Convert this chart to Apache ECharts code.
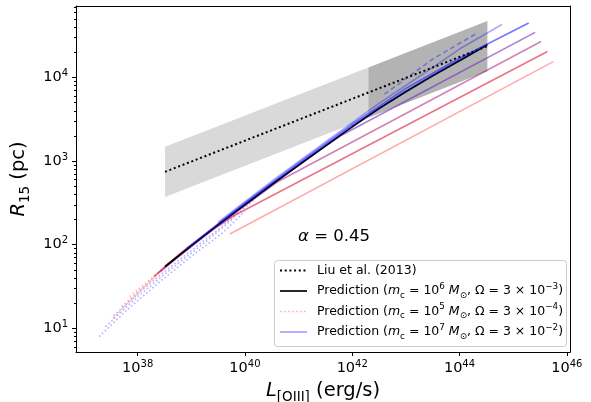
<!DOCTYPE html>
<html lang="en">
<head>
<meta charset="UTF-8">
<title>R15 - L[OIII]</title>
<script src="https://cdn.jsdelivr.net/npm/echarts@6/dist/echarts.min.js"></script>
<style>
  html, body { margin: 0; padding: 0; background: #fff; }
  #chart { width: 591px; height: 402px; }
</style>
</head>
<body>
<div id="chart"></div>
<script>
// every value is log10: x = log L[OIII] (erg/s), y = log R15 (pc)
var xTicks = [38, 40, 42, 44, 46];
var yTicks = [1, 2, 3, 4];

// Liu et al. (2013) relation and its scatter band
var liuX = [38.51, 44.52];
var liuY = [2.872, 4.375];
var bandX = [38.51, 42.30, 44.52];
var bandLow = [2.572, 3.520, 4.075];
var bandHigh = [3.172, 4.120, 4.675];

// model curves
var blackX = [38.51, 39.0, 39.5, 40.0, 40.5, 41.0, 41.5, 42.0, 42.5, 43.0, 43.5, 44.0, 44.52];
var blackY = [1.74, 1.99, 2.24, 2.48, 2.72, 2.95, 3.18, 3.41, 3.63, 3.83, 4.02, 4.20, 4.39];
var navyX = [39.5, 40.5, 41.0, 42.0, 43.0, 44.0, 44.52];
var navyY = [2.25, 2.73, 2.96, 3.42, 3.84, 4.21, 4.40];

var redFX = [39.72, 45.75];
var redFY = [2.128, 4.19];
var redEX = [38.3, 38.8, 39.3, 39.8, 45.64];
var redEY = [1.62, 1.90, 2.14, 2.35, 4.31];
var midDX = [38.4, 39.0, 39.5, 40.0, 40.6, 45.52];
var midDY = [1.67, 1.98, 2.23, 2.47, 2.75, 4.43];
var midCX = [38.5, 39.5, 40.5, 41.2, 41.8, 45.41];
var midCY = [1.73, 2.23, 2.71, 3.05, 3.31, 4.54];
var blueBX = [38.9, 40.0, 41.0, 42.0, 43.0, 44.0, 45.29];
var blueBY = [1.95, 2.50, 2.98, 3.44, 3.87, 4.23, 4.652];
var blueAX = [39.5, 40.5, 41.5, 42.5, 43.5, 44.0, 44.79];
var blueAY = [2.27, 2.76, 3.23, 3.69, 4.12, 4.34, 4.633];
var blueDashX = [42.6, 43.5, 44.3];
var blueDashY = [3.80, 4.22, 4.52];

// dotted tails at low luminosity
var pinkDot1X = [37.54, 38.0, 38.5, 39.0];
var pinkDot1Y = [1.12, 1.42, 1.72, 1.98];
var pinkDot2X = [37.7, 38.2, 38.7, 39.2];
var pinkDot2Y = [1.26, 1.55, 1.83, 2.08];
var pinkDot3X = [37.85, 38.3, 38.8, 39.4];
var pinkDot3Y = [1.38, 1.62, 1.89, 2.18];
var blueDot1X = [37.28, 37.8, 38.4, 39.0, 39.6, 40.0];
var blueDot1Y = [0.90, 1.22, 1.55, 1.86, 2.15, 2.40];
var blueDot2X = [37.4, 38.0, 38.6, 39.2, 39.8];
var blueDot2Y = [1.02, 1.38, 1.70, 2.00, 2.32];
var blueDot3X = [37.55, 38.1, 38.7, 39.4, 40.2];
var blueDot3Y = [1.15, 1.47, 1.78, 2.13, 2.55];

var FONT = 'DejaVu Sans';

function pairs(xs, ys) {
  return xs.map(function (x, i) { return [x, ys[i]]; });
}

function curve(name, xs, ys, color, width, type, z) {
  return {
    name: name,
    type: 'line',
    data: pairs(xs, ys),
    showSymbol: false,
    symbol: 'none',
    silent: true,
    z: z || 2,
    lineStyle: { color: color, width: width, type: type || 'solid', cap: 'butt' }
  };
}

// y minor ticks (2..9 per decade)
var yMin = 0.717, yMax = 4.855;
var yMinor = [];
for (var k = 0; k < 5; k++) {
  for (var m = 2; m < 10; m++) {
    var v = k + Math.log10(m);
    if (v > yMin && v < yMax) yMinor.push(v);
  }
}

var bandData = [];
for (var i = 0; i < bandX.length - 1; i++) {
  bandData.push([bandX[i], bandX[i + 1], bandLow[i], bandHigh[i], bandLow[i + 1], bandHigh[i + 1]]);
}
var bandColors = ['#d9d9d9', '#b3b3b3'];

var supRich = {
  b: { fontFamily: FONT, fontSize: 14.5, color: '#000', lineHeight: 18 },
  s: { fontFamily: FONT, fontSize: 10, color: '#000', verticalAlign: 'top', lineHeight: 18 }
};

var titleRich = {
  i: { fontFamily: FONT, fontStyle: 'italic', fontSize: 19.5, color: '#000', lineHeight: 26 },
  sub: { fontFamily: FONT, fontSize: 13.5, color: '#000', verticalAlign: 'bottom', lineHeight: 26 },
  r: { fontFamily: FONT, fontSize: 19.5, color: '#000', lineHeight: 26 }
};

var chart = echarts.init(document.getElementById('chart'));

var option = {
  animation: false,
  backgroundColor: '#fff',
  grid: { left: 76, right: 21, top: 6, bottom: 50, containLabel: false, outerBoundsMode: 'none' },
  xAxis: [{
    type: 'value',
    min: 36.85,
    max: 46.06,
    name: '{i|L}{sub|[OIII]}{r| (erg/s)}',
    nameLocation: 'middle',
    nameGap: 26,
    nameTextStyle: { rich: titleRich },
    axisLine: { onZero: false, lineStyle: { color: '#000', width: 1 } },
    axisTick: { customValues: xTicks, length: 4, lineStyle: { color: '#000' } },
    axisLabel: {
      customValues: xTicks,
      margin: 7,
      formatter: function (v) { return '{b|10}{s|' + v + '}'; },
      rich: supRich
    },
    splitLine: { show: false }
  }, {
    type: 'value',
    position: 'top',
    min: 36.85,
    max: 46.06,
    axisLine: { onZero: false, lineStyle: { color: '#000', width: 1 } },
    axisTick: { show: false },
    axisLabel: { show: false },
    splitLine: { show: false }
  }],
  yAxis: [{
    type: 'value',
    min: yMin,
    max: yMax,
    name: '{i|R}{sub|15}{r| (pc)}',
    nameLocation: 'middle',
    nameGap: 33,
    nameRotate: 90,
    nameTextStyle: { rich: titleRich },
    axisLine: { onZero: false, lineStyle: { color: '#000', width: 1 } },
    axisTick: { customValues: yTicks, length: 4, lineStyle: { color: '#000' } },
    axisLabel: {
      customValues: yTicks,
      margin: 8,
      formatter: function (v) { return '{b|10}{s|' + v + '}'; },
      rich: supRich
    },
    splitLine: { show: false }
  }, {
    type: 'value',
    min: yMin,
    max: yMax,
    position: 'left',
    axisLine: { show: false },
    axisTick: { customValues: yMinor, length: 2, lineStyle: { color: '#000' } },
    axisLabel: { show: false },
    splitLine: { show: false }
  }, {
    type: 'value',
    min: yMin,
    max: yMax,
    position: 'right',
    axisLine: { onZero: false, lineStyle: { color: '#000', width: 1 } },
    axisTick: { show: false },
    axisLabel: { show: false },
    splitLine: { show: false }
  }],
  series: [
    {
      name: 'Liu band',
      type: 'custom',
      silent: true,
      z: 1,
      data: bandData,
      encode: { x: [0, 1], y: [2, 3, 4, 5] },
      renderItem: function (params, api) {
        var x0 = api.value(0), x1 = api.value(1);
        var pts = [
          api.coord([x0, api.value(2)]),
          api.coord([x1, api.value(4)]),
          api.coord([x1, api.value(5)]),
          api.coord([x0, api.value(3)])
        ];
        return { type: 'polygon', shape: { points: pts }, style: { fill: bandColors[params.dataIndex] } };
      }
    },
    curve('pink dotted 1', pinkDot1X, pinkDot1Y, 'rgba(255,0,0,0.3)', 1.6, [1.6, 2.4]),
    curve('pink dotted 2', pinkDot2X, pinkDot2Y, 'rgba(255,0,0,0.3)', 1.6, [1.6, 2.4]),
    curve('pink dotted 3', pinkDot3X, pinkDot3Y, 'rgba(255,0,0,0.3)', 1.6, [1.6, 2.4]),
    curve('blue dotted 1', blueDot1X, blueDot1Y, 'rgba(0,0,255,0.3)', 1.6, [1.6, 2.4]),
    curve('blue dotted 2', blueDot2X, blueDot2Y, 'rgba(0,0,255,0.3)', 1.6, [1.6, 2.4]),
    curve('blue dotted 3', blueDot3X, blueDot3Y, 'rgba(0,0,255,0.3)', 1.6, [1.6, 2.4]),
    curve('red F', redFX, redFY, 'rgba(255,0,0,0.33)', 1.6),
    curve('red E', redEX, redEY, 'rgba(215,0,40,0.55)', 1.6),
    curve('mid D', midDX, midDY, 'rgba(170,30,120,0.55)', 1.6),
    curve('mid C', midCX, midCY, 'rgba(110,40,190,0.6)', 1.6),
    curve('Prediction 1e6', blackX, blackY, '#000', 1.7, 'solid', 3),
    curve('navy', navyX, navyY, 'rgba(0,0,220,0.4)', 1.6, 'solid', 3),
    curve('blue B', blueBX, blueBY, 'rgba(30,30,255,0.6)', 1.6, 'solid', 3),
    curve('blue A', blueAX, blueAY, 'rgba(0,0,255,0.33)', 1.6, 'solid', 3),
    curve('blue dashed', blueDashX, blueDashY, 'rgba(0,0,255,0.35)', 1.6, [5, 3], 3),
    curve('Liu et al. (2013)', liuX, liuY, '#000', 2, [2, 2.7], 4)
  ],
  graphic: [
    {
      type: 'text',
      x: 334, y: 237,
      style: {
        text: '{i|α}{r| = 0.45}',
        align: 'center', verticalAlign: 'middle',
        rich: {
          i: { fontFamily: FONT, fontStyle: 'italic', fontSize: 16.5, fill: '#000' },
          r: { fontFamily: FONT, fontSize: 16.5, fill: '#000' }
        }
      },
      z: 10
    },
    {
      type: 'rect',
      shape: { x: 274.5, y: 260.5, width: 292, height: 86, r: 3 },
      style: { fill: 'rgba(255,255,255,0.8)', stroke: '#cccccc', lineWidth: 1 },
      z: 10
    },
    { type: 'line', shape: { x1: 280, y1: 270.5, x2: 307, y2: 270.5 }, style: { stroke: '#000', lineWidth: 2, lineDash: [2, 2.7] }, z: 11 },
    { type: 'line', shape: { x1: 280, y1: 291, x2: 307, y2: 291 }, style: { stroke: '#000', lineWidth: 1.7 }, z: 11 },
    { type: 'line', shape: { x1: 280, y1: 311.5, x2: 307, y2: 311.5 }, style: { stroke: 'rgba(255,0,0,0.3)', lineWidth: 1.6, lineDash: [1.6, 2.4] }, z: 11 },
    { type: 'line', shape: { x1: 280, y1: 332, x2: 307, y2: 332 }, style: { stroke: 'rgba(0,0,255,0.3)', lineWidth: 2 }, z: 11 },
    legendText(270.5, 'Liu et al. (2013)'),
    legendText(291, predLabel('6', '−3')),
    legendText(311.5, predLabel('5', '−4')),
    legendText(332, predLabel('7', '−2'))
  ]
};

function predLabel(mExp, oExp) {
  return '{r|Prediction (}{i|m}{sub|c}{r| = 10}{sup|' + mExp + '}{r| }{i|M}{sub|⊙}{r|, Ω = 3 × 10}{sup|' + oExp + '}{r|)}';
}

function legendText(y, text) {
  if (text.indexOf('{') < 0) text = '{r|' + text + '}';
  return {
    type: 'text',
    x: 317, y: y,
    z: 11,
    style: {
      text: text,
      verticalAlign: 'middle',
      rich: {
        r: { fontFamily: FONT, fontSize: 12.5, fill: '#000', lineHeight: 18 },
        i: { fontFamily: FONT, fontStyle: 'italic', fontSize: 12.5, fill: '#000', lineHeight: 18 },
        sub: { fontFamily: FONT, fontSize: 8.8, fill: '#000', verticalAlign: 'bottom', lineHeight: 18 },
        sup: { fontFamily: FONT, fontSize: 8.8, fill: '#000', verticalAlign: 'top', lineHeight: 18 }
      }
    }
  };
}

chart.setOption(option);
</script>
</body>
</html>
